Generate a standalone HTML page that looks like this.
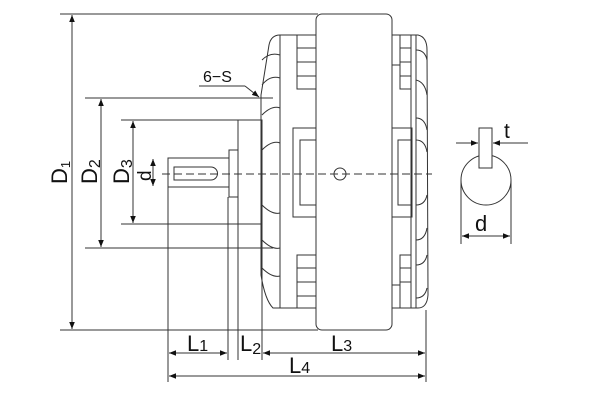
<!DOCTYPE html>
<html><head><style>body{margin:0;background:#fff}svg{display:block}text{font-family:"Liberation Sans",sans-serif;fill:#111}</style></head><body>
<svg width="600" height="400" viewBox="0 0 600 400" xmlns="http://www.w3.org/2000/svg">
<defs><marker id="a" viewBox="0 0 10 10" refX="10" refY="5" markerWidth="7" markerHeight="7" orient="auto-start-reverse"><path d="M0,1 L10,5 L0,9z" fill="#111"/></marker></defs>
<g stroke="#333" stroke-width="1" fill="none">
<line x1="60" y1="14" x2="318" y2="14"/>
<line x1="60" y1="330" x2="318" y2="330"/>
<line x1="85" y1="98" x2="273" y2="98"/>
<line x1="85" y1="248" x2="273" y2="248"/>
<line x1="121" y1="120" x2="262" y2="120"/>
<line x1="121" y1="224" x2="262" y2="224"/>
<line x1="168" y1="187" x2="168" y2="382"/>
<line x1="228" y1="197" x2="228" y2="360"/>
<line x1="238" y1="224" x2="238" y2="360"/>
<line x1="262" y1="224" x2="262" y2="360"/>
<line x1="426" y1="310" x2="426" y2="382"/>
<line x1="72" y1="15" x2="72" y2="329" marker-start="url(#a)" marker-end="url(#a)"/>
<line x1="101" y1="99" x2="101" y2="247" marker-start="url(#a)" marker-end="url(#a)"/>
<line x1="133" y1="121" x2="133" y2="223" marker-start="url(#a)" marker-end="url(#a)"/>
<line x1="153" y1="159" x2="153" y2="186" marker-start="url(#a)" marker-end="url(#a)"/>
<line x1="169" y1="353" x2="227" y2="353" marker-start="url(#a)" marker-end="url(#a)"/>
<line x1="263" y1="353" x2="425" y2="353" marker-start="url(#a)" marker-end="url(#a)"/>
<line x1="169" y1="376" x2="425" y2="376" marker-start="url(#a)" marker-end="url(#a)"/>
<line x1="199" y1="86" x2="245" y2="86"/>
<line x1="245" y1="86" x2="259" y2="97" marker-end="url(#a)"/>
<rect x="168" y="158" width="61" height="29"/>
<path d="M211,167 L174,167 L174,180 L211,180 A6.5,6.5 0 0 0 211,167z"/>
<rect x="229" y="150" width="9" height="47"/>
<rect x="238" y="120" width="24" height="104"/>
<path d="M318,35 L280,35 Q271,35 269,45 L261,95 L261,275 Q265,300 273,308 L318,308"/>
<line x1="280" y1="35" x2="280" y2="308"/>
<path d="M262,60 Q270,52 280,55 M262,85 Q270,75 280,78 M262,115 Q272,105 280,108 M262,150 Q272,140 280,143 M262,205 Q272,215 280,213 M262,240 Q272,250 280,248 M262,268 Q272,278 280,276"/>
<rect x="297" y="35" width="19" height="54"/><line x1="297" y1="48" x2="316" y2="48"/><line x1="297" y1="62" x2="316" y2="62"/><line x1="297" y1="76" x2="316" y2="76"/>
<rect x="293" y="128" width="23" height="89"/><rect x="300" y="140" width="16" height="65"/>
<rect x="297" y="255" width="19" height="53"/><line x1="297" y1="268" x2="316" y2="268"/><line x1="297" y1="282" x2="316" y2="282"/><line x1="297" y1="296" x2="316" y2="296"/>
<rect x="316" y="14" width="76" height="316" rx="6" fill="#fff"/>
<circle cx="340" cy="174" r="6"/>
<path d="M392,35 L418,35 Q427,37 427,50 L428,295 Q427,308 418,308 L392,308"/>
<line x1="411" y1="35" x2="411" y2="308"/><line x1="416" y1="35" x2="416" y2="308"/>
<path d="M416,50 Q425,50 427,60 M416,80 Q425,82 427,95 M416,118 Q425,118 427,130 M416,140 Q425,140 427,152 M416,205 Q425,205 427,195 M416,240 Q425,240 427,228 M416,265 Q425,265 427,255 M416,298 Q425,298 427,288"/>
<rect x="392" y="35" width="8" height="30"/><rect x="400" y="35" width="11" height="54"/><line x1="400" y1="48" x2="411" y2="48"/><line x1="400" y1="62" x2="411" y2="62"/><line x1="400" y1="76" x2="411" y2="76"/>
<rect x="392" y="128" width="20" height="89"/><rect x="398" y="140" width="14" height="65"/>
<rect x="400" y="255" width="11" height="53"/><line x1="400" y1="268" x2="411" y2="268"/><line x1="400" y1="282" x2="411" y2="282"/><rect x="392" y="285" width="8" height="23"/>
<line x1="162" y1="174" x2="432" y2="174" stroke-dasharray="8,4"/>
<circle cx="486" cy="180" r="25"/>
<rect x="479" y="128" width="13" height="40" fill="#fff"/>
<line x1="456" y1="143" x2="478" y2="143" marker-end="url(#a)"/>
<line x1="528" y1="143" x2="493" y2="143" marker-end="url(#a)"/>
<line x1="461" y1="180" x2="461" y2="244"/><line x1="511" y1="180" x2="511" y2="244"/>
<line x1="462" y1="236" x2="510" y2="236" marker-start="url(#a)" marker-end="url(#a)"/>
</g>
<text x="203" y="82" font-size="16">6−S</text>
<text font-size="22" transform="translate(67,184) rotate(-90)">D<tspan font-size="13" dy="3">1</tspan></text>
<text font-size="22" transform="translate(97,184) rotate(-90)">D<tspan font-size="16" dy="3">2</tspan></text>
<text font-size="22" transform="translate(129,184) rotate(-90)">D<tspan font-size="16" dy="3">3</tspan></text>
<text font-size="19" transform="translate(151,181) rotate(-90)">d</text>
<text x="187" y="351" font-size="22">L<tspan font-size="16">1</tspan></text>
<text x="240" y="351" font-size="22">L<tspan font-size="16" dy="3">2</tspan></text>
<text x="331" y="351" font-size="22">L<tspan font-size="16">3</tspan></text>
<text x="289" y="373" font-size="22">L<tspan font-size="16">4</tspan></text>
<text x="504" y="138" font-size="21">t</text>
<text x="475" y="231" font-size="22">d</text>
</svg>
</body></html>
